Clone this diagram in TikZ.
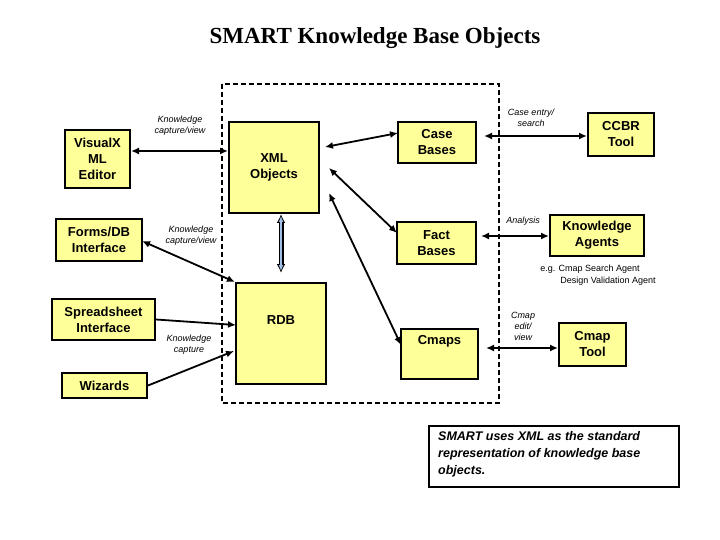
\documentclass[tikz,border=0pt]{standalone}
\usepackage{fontspec}
\setmainfont{Liberation Sans}
\newfontfamily\serifT{Liberation Serif}
\usetikzlibrary{arrows.meta}
\begin{document}
\begin{tikzpicture}[x=1pt,y=-1pt,
 box/.style={draw,line width=2pt,fill={rgb,255:red,255;green,255;blue,153},align=center,font=\bfseries\fontsize{13}{16}\selectfont,inner sep=0pt},
 lab/.style={font=\itshape\fontsize{9}{11}\selectfont,align=center},
 ar/.style={line width=1.8pt,{Latex[length=8pt,width=7pt]}-{Latex[length=8pt,width=7pt]}},
 sa/.style={line width=1.8pt,-{Latex[length=8pt,width=7pt]}}]
\useasboundingbox (0,0) rectangle (720,540);
\node[font=\serifT\bfseries\fontsize{23}{26}\selectfont] (title) at (375,38) {SMART Knowledge Base Objects};
\draw[line width=2pt,dash pattern=on 5pt off 3pt] (222,84) rectangle (499,403);
\node[box,minimum width=65pt,minimum height=58pt] (vx) at (97.5,159) {VisualX\\ML\\Editor};
\node[box,minimum width=90pt,minimum height=91pt] (xml) at (274,167.5) {XML\\Objects};
\node[box,minimum width=86pt,minimum height=42pt] (fdb) at (99,240) {Forms/DB\\Interface};
\node[box,minimum width=90pt,minimum height=101pt,anchor=north] (rdb) at (281,282) {};
\node (rdbt) at (281,320) [font=\bfseries\fontsize{13}{16}\selectfont] {RDB};
\node[box,minimum width=103pt,minimum height=41pt] (ss) at (103.5,319.5) {Spreadsheet\\Interface};
\node[box,minimum width=85pt,minimum height=25pt] (wz) at (104.5,385.5) {Wizards};
\node[box,minimum width=78pt,minimum height=41pt] (cb) at (437,142.5) {Case\\Bases};
\node[box,minimum width=66pt,minimum height=43pt] (ccbr) at (621,134.5) {CCBR\\Tool};
\node[box,minimum width=79pt,minimum height=42pt] (fb) at (436.5,243) {Fact\\Bases};
\node[box,minimum width=94pt,minimum height=41pt] (ka) at (597,235.5) {Knowledge\\Agents};
\node[box,minimum width=77pt,minimum height=50pt,anchor=north] (cm) at (439.5,328) {};
\node[font=\bfseries\fontsize{13}{16}\selectfont] (cmt) at (439.5,341) {Cmaps};
\node[draw,line width=1.5pt,fill=white,minimum width=250pt,minimum height=61pt,anchor=north west,inner sep=0pt] (note) at (428,425) {};
\node[anchor=north west,align=left,inner sep=0pt,font=\bfseries\itshape\fontsize{12.5}{17}\selectfont] (notet) at (438,431) {SMART uses XML as the standard\\representation of knowledge base\\objects.};
\node[box,minimum width=67pt,minimum height=43pt] (ct) at (592.5,344.5) {Cmap\\Tool};
% arrows
\draw[ar] (vx.east |- 0,151) -- (xml.west |- 0,151);
\node[lab] (l1) at (180,126) {Knowledge\\capture/view};
\draw[ar] (142,241) -- (rdb.north west);
\node[lab] (l2) at (191,236) {Knowledge\\capture/view};
\draw[sa] (ss.east) -- (236,325);
\draw[sa] (wz.east) -- (234,351);
\node[lab] (l3) at (189,345) {Knowledge\\capture};
\draw[line width=5pt,{Latex[length=9pt,width=9pt]}-{Latex[length=9pt,width=9pt]}] (281,214) -- (281,273);
\draw[line width=2.6pt,{Latex[length=6pt,width=5pt]}-{Latex[length=6pt,width=5pt]},color={rgb,255:red,160;green,190;blue,230},shorten <=2pt,shorten >=2pt] (281,214) -- (281,273);
\draw[ar] (325,147) -- (398,133);
\draw[ar] (329,168) -- (397,233);
\draw[ar] (329,193) -- (401,345);
\draw[ar] (484,136) -- (ccbr.west |- 0,136);
\node[lab] (l4) at (531,118) {Case entry/\\search};
\draw[ar] (481,236) -- (ka.west |- 0,236);
\node[lab] (l5) at (523,221) {Analysis};
\draw[ar] (486,348) -- (ct.west |- 0,348);
\node[lab] (l6) at (523,326) {Cmap\\edit/\\view};
\node[font=\fontsize{9}{12}\selectfont,align=left] (eg) at (598,275) {e.g. Cmap Search Agent\\\hspace*{20pt}Design Validation Agent};
\end{tikzpicture}
\end{document}
